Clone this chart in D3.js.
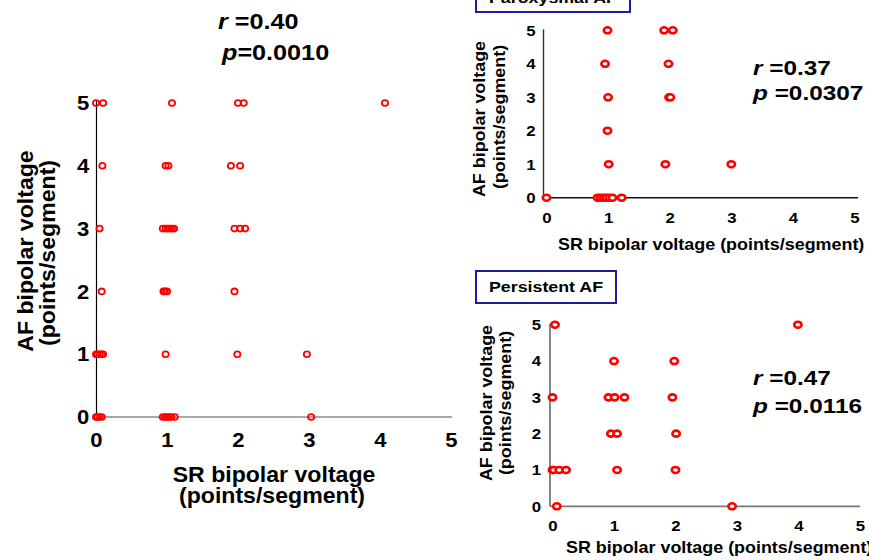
<!DOCTYPE html>
<html><head><meta charset="utf-8">
<script src="https://cdn.jsdelivr.net/npm/d3@7"></script>
<style>
body{margin:0;background:#fff}
svg text{font-family:"Liberation Sans",Arial,sans-serif;font-weight:bold;fill:#000}
</style>
</head><body>
<svg id="c" width="869" height="560"></svg>
<script>
// ---------- data ----------
const ticks = [0, 1, 2, 3, 4, 5];

// all patients (left panel)
const allSR = [0.0,0.1,1.07,2.0,2.08,4.07,
               0.09,0.98,1.02,1.9,2.03,
               0.05,0.94,0.98,1.01,1.04,1.07,1.1,1.95,2.03,2.1,
               0.08,0.95,0.97,1.0,1.95,
               0.0,0.02,0.05,0.08,0.1,0.98,1.99,2.97,
               0.0,0.02,0.05,0.08,0.94,0.97,1.0,1.03,1.06,1.11,3.03];
const allAF = [5,5,5,5,5,5,
               4,4,4,4,4,
               3,3,3,3,3,3,3,3,3,3,
               2,2,2,2,2,
               1,1,1,1,1,1,1,1,
               0,0,0,0,0,0,0,0,0,0,0];

// paroxysmal AF
const parSR = [0.99,1.91,2.05,
               0.95,1.98,
               1.0,1.99,2.01,
               0.99,
               1.01,1.93,3.0,
               0.0,0.83,0.88,0.93,0.97,1.02,1.07,1.22];
const parAF = [5,5,5, 4,4, 3,3,3, 2, 1,1,1, 0,0,0,0,0,0,0,0];

// persistent AF
const perSR = [0.04,3.99,
               1.0,1.98,
               0.0,0.91,1.01,1.17,1.95,
               0.95,1.05,2.01,
               0.0,0.02,0.11,0.22,1.05,2.0,
               0.07,2.92];
const perAF = [5,5, 4,4, 3,3,3,3,3, 2,2,2, 1,1,1,1,1,1, 0,0];

const xTitle = "SR bipolar voltage";
const xTitle2 = "(points/segment)";
const yTitle = "AF bipolar voltage";
const yTitle2 = "(points/segment)";
const statsAll = ["0.40", "0.0010"];
const statsPar = ["0.37", "0.0307"];
const statsPer = ["0.47", "0.0116"];
const groupLabels = ["Paroxysmal AF", "Persistent AF"];

// ---------- drawing ----------
const svg = d3.select("#c");

function txt(g, x, y, s, size, sx, anchor, rot) {
  const t = g.append("text")
    .attr("transform", `translate(${x},${y})` + (rot ? " rotate(-90)" : "") + ` scale(${sx},1)`)
    .attr("font-size", size)
    .attr("text-anchor", anchor || "start")
    .text(s);
  return t;
}

function stat(g, x, y, sym, space, val, size, sx) {
  const t = g.append("text")
    .attr("transform", `translate(${x},${y}) scale(${sx},1)`)
    .attr("font-size", size);
  t.append("tspan").attr("font-style", "italic").text(sym);
  t.append("tspan").text((space ? " " : "") + "=" + val);
}

function panel(cfg, sr, af) {
  const x = d3.scaleLinear().domain([0, 5]).range(cfg.xr);
  const y = d3.scaleLinear().domain([0, 5]).range(cfg.yr);
  const g = svg.append("g");

  // y axis
  const ya = g.append("g")
    .attr("transform", `translate(${cfg.yAxisX},0)`)
    .call(d3.axisLeft(y).tickValues(ticks).tickSize(0).tickPadding(cfg.ypad).tickFormat(d3.format("d")));
  ya.select(".domain").remove();
  ya.selectAll("text").attr("font-size", cfg.tickSize).attr("fill", "#000")
    .attr("transform", `scale(${cfg.tickSx},1)`);

  // x axis
  const xa = g.append("g")
    .attr("transform", `translate(0,${cfg.xAxisY})`)
    .call(d3.axisBottom(x).tickValues(ticks).tickSize(0).tickPadding(cfg.xpad).tickFormat(d3.format("d")));
  xa.select(".domain").remove();
  xa.selectAll("text").attr("font-size", cfg.tickSize).attr("fill", "#000")
    .attr("transform", `scale(${cfg.tickSx},1)`);

  // axis lines
  g.append("line")
    .attr("x1", cfg.yAxisX).attr("x2", cfg.yAxisX)
    .attr("y1", y(5) - cfg.yExt).attr("y2", cfg.xAxisY)
    .attr("stroke", cfg.yAxisColor).attr("stroke-width", cfg.axisW);
  g.append("line")
    .attr("x1", cfg.yAxisX).attr("x2", cfg.xEnd)
    .attr("y1", cfg.xAxisY).attr("y2", cfg.xAxisY)
    .attr("stroke", cfg.xAxisColor).attr("stroke-width", cfg.axisW);

  // points
  g.append("g").selectAll("ellipse")
    .data(sr.map((v, i) => [v, af[i]]))
    .join("ellipse")
    .attr("cx", d => x(d[0]))
    .attr("cy", d => y(d[1]))
    .attr("rx", cfg.rx).attr("ry", cfg.ry)
    .attr("fill", cfg.fill)
    .attr("stroke", "#ff0000")
    .attr("stroke-width", cfg.mw);
  return g;
}

// ----- left: all patients -----
const gL = panel({
  xr: [96, 451], yr: [417, 103], yAxisX: 96.5, xAxisY: 417, xEnd: 452, yExt: 2,
  ypad: 7, xpad: 15, tickSize: 21, tickSx: 1.05,
  yAxisColor: "#000", xAxisColor: "#555", axisW: 1.2,
  rx: 3.1, ry: 2.9, mw: 1.8, fill: "none"
}, allSR, allAF);
stat(gL, 218, 29, "r", true, statsAll[0], 22.5, 1.12);
stat(gL, 222, 60, "p", false, statsAll[1], 22.5, 1.12);
txt(gL, 274, 482, xTitle, 22, 1.05, "middle");
txt(gL, 272, 503, xTitle2, 22, 1.05, "middle");
txt(gL, 33, 251, yTitle, 22, 1.05, "middle", true);
txt(gL, 55, 253, yTitle2, 22, 1.05, "middle", true);

// ----- top right: paroxysmal -----
const gP = panel({
  xr: [546.5, 854.5], yr: [197.7, 30.3], yAxisX: 543.5, xAxisY: 197.7, xEnd: 858, yExt: 1,
  ypad: 7, xpad: 15, tickSize: 15, tickSx: 1.12,
  yAxisColor: "#333", xAxisColor: "#111", axisW: 1.4,
  rx: 3.7, ry: 3.0, mw: 2.6, fill: "#fff"
}, parSR, parAF);
stat(gP, 753, 75, "r", true, statsPar[0], 21, 1.16);
stat(gP, 753, 100, "p", true, statsPar[1], 21, 1.16);
txt(gP, 558, 250, xTitle + " " + xTitle2, 16, 1.12, "start");
txt(gP, 485, 119, yTitle, 16, 1.12, "middle", true);
txt(gP, 505, 117, yTitle2, 16, 1.12, "middle", true);

// ----- bottom right: persistent -----
const gS = panel({
  xr: [552.5, 860], yr: [506.3, 324.7], yAxisX: 550, xAxisY: 506.3, xEnd: 860, yExt: 1,
  ypad: 8, xpad: 14, tickSize: 15, tickSx: 1.12,
  yAxisColor: "#777", xAxisColor: "#777", axisW: 1.8,
  rx: 3.7, ry: 3.0, mw: 2.6, fill: "#fff"
}, perSR, perAF);
stat(gS, 753, 385, "r", true, statsPer[0], 21, 1.16);
stat(gS, 753, 413, "p", true, statsPer[1], 21, 1.16);
txt(gS, 566, 553, xTitle + " " + xTitle2, 16, 1.12, "start");
txt(gS, 492, 403, yTitle, 16, 1.12, "middle", true);
txt(gS, 511, 403, yTitle2, 16, 1.12, "middle", true);

// ----- group label boxes -----
const boxes = [
  { label: groupLabels[0], x: 476, y: -20, w: 154, h: 32, ty: 2.5 },
  { label: groupLabels[1], x: 476, y: 271, w: 140, h: 32, ty: 291.5 }
];
const bg = svg.append("g");
boxes.forEach(b => {
  bg.append("rect").attr("x", b.x).attr("y", b.y).attr("width", b.w).attr("height", b.h)
    .attr("fill", "#fff").attr("stroke", "#1c1c9c").attr("stroke-width", 2);
  txt(bg, b.x + b.w / 2, b.ty, b.label, 15.5, 1.15, "middle");
});
</script>
</body></html>
